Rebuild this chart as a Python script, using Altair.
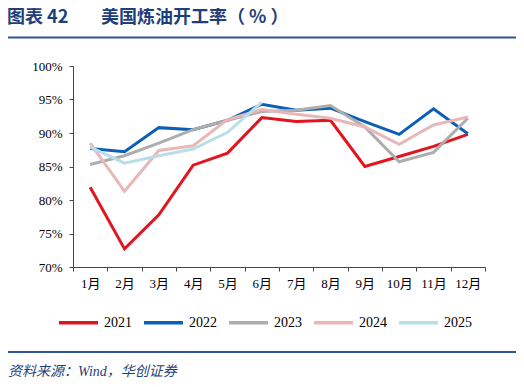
import altair as alt
import pandas as pd

months = ["1月", "2月", "3月", "4月", "5月", "6月", "7月", "8月", "9月", "10月", "11月", "12月"]
years = ["2021", "2022", "2023", "2024", "2025"]
v2021 = [81.9, 72.7, 77.8, 85.2, 87.0, 92.3, 91.7, 91.9, 85.0, 86.5, 88.0, 89.8]
v2022 = [87.7, 87.2, 90.8, 90.5, 91.9, 94.3, 93.4, 93.7, 91.7, 89.8, 93.6, 89.9]
v2023 = [85.3, 86.6, 88.5, 90.5, 91.9, 93.2, 93.4, 94.1, 90.9, 85.7, 87.1, 92.2]
v2024 = [88.5, 81.3, 87.4, 88.1, 92.0, 93.5, 92.8, 92.2, 90.9, 88.3, 91.2, 92.4]
v2025 = [87.9, 85.5, 86.6, 87.6, 90.1, 94.6]
colors = ["#e3141e", "#0b60b5", "#adadad", "#e7b8b7", "#b9dde9"]

series = [v2021, v2022, v2023, v2024, v2025]
rows = []
for y, vals in zip(years, series):
    for m, v in zip(months, vals):
        rows.append({"month": m, "year": y, "value": v})
df = pd.DataFrame(rows)

FONT = "Liberation Serif, Noto Sans CJK SC"
BLUE = "#1f3f7a"

lines = alt.Chart(df).mark_line(strokeWidth=3).encode(
    x=alt.X("month:N", sort=months, title=None,
            scale=alt.Scale(type="band", paddingInner=0, paddingOuter=0),
            axis=alt.Axis(labelAngle=0, tickBand="extent", tickSize=4,
                          labelFontSize=13, labelFont=FONT, labelColor="#000",
                          domainColor="#444", tickColor="#444", labelPadding=6)),
    y=alt.Y("value:Q", title=None,
            scale=alt.Scale(domain=[70, 100], nice=False, zero=False),
            axis=alt.Axis(values=[70, 75, 80, 85, 90, 95, 100], grid=False,
                          labelExpr="datum.value + '%'", tickSize=4,
                          labelFontSize=13, labelFont=FONT, labelColor="#000",
                          domainColor="#444", tickColor="#444", labelPadding=7)),
    color=alt.Color("year:N", sort=years,
                    scale=alt.Scale(domain=years, range=colors),
                    legend=alt.Legend(title=None, orient="none", direction="horizontal",
                                      legendX=-16, legendY=235,
                                      symbolType="stroke", symbolSize=1521,
                                      symbolStrokeWidth=3.5, labelFontSize=14,
                                      labelFont=FONT, labelColor="#000",
                                      labelOffset=4, columnPadding=5)),
)

deco = pd.DataFrame({"d": [0]})
title1 = alt.Chart(deco).mark_text(
    text="图表 42", font="Noto Sans CJK SC", fontSize=18,
    fontWeight="bold", color=BLUE, align="left", baseline="top"
).encode(x=alt.value(-66), y=alt.value(-57))
title2 = alt.Chart(deco).mark_text(
    text="美国炼油开工率（ % ）", font="Noto Sans CJK SC", fontSize=18,
    fontWeight="bold", color=BLUE, align="left", baseline="top"
).encode(x=alt.value(28), y=alt.value(-57))

top_rule = alt.Chart(deco).mark_rule(color="#2f5597", strokeWidth=2).encode(
    x=alt.value(-68), x2=alt.value(444), y=alt.value(-28.5))
bot_rule = alt.Chart(deco).mark_rule(color="#2f5597", strokeWidth=2).encode(
    x=alt.value(-68), x2=alt.value(444), y=alt.value(286))

source = alt.Chart(deco).mark_text(
    text="资料来源：Wind，华创证券", font=FONT, fontSize=14, fontStyle="italic",
    color=BLUE, align="left", baseline="middle"
).encode(x=alt.value(-65), y=alt.value(306))

chart = alt.layer(lines, title1, title2, top_rule, bot_rule, source).properties(
    width=412, height=201,
    autosize=alt.AutoSizeParams(type="none"),
    padding={"left": 65, "top": 58, "right": 31, "bottom": 112},
).configure_view(stroke=None)

chart.save("out.html", embed_options={"renderer": "svg", "actions": False})
